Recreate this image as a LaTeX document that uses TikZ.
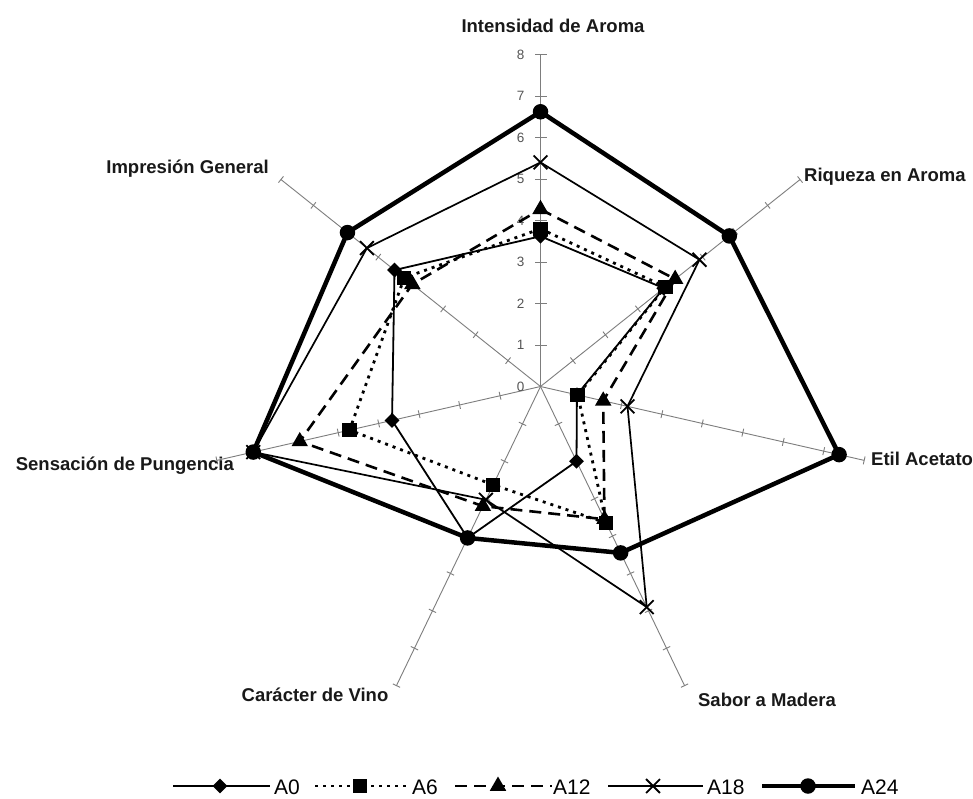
\documentclass[tikz,border=0pt]{standalone}
\usepackage{fontspec}
\setmainfont{Liberation Sans}
\usetikzlibrary{calc,shapes.geometric,shapes.misc}
\definecolor{axgray}{RGB}{125,125,125}
\definecolor{numgray}{RGB}{85,85,85}
\begin{document}
\begin{tikzpicture}[x=1pt,y=-1pt,
  axisline/.style={draw=axgray,line width=0.9pt},
  numlab/.style={text=numgray,font=\fontsize{13.5}{14}\selectfont,inner sep=0pt},
  axlab/.style={font=\fontsize{18.5}{20}\selectfont\bfseries,inner sep=0pt,text=black!90},
  leglab/.style={font=\fontsize{21}{22}\selectfont,inner sep=0pt,anchor=west},
  sA0/.style={line width=1.8pt},
  sA6/.style={line width=2.8pt,dash pattern=on 3pt off 5pt},
  sA12/.style={line width=2.6pt,dash pattern=on 12pt off 7pt},
  sA18/.style={line width=1.7pt},
  sA24/.style={line width=4.5pt,line join=round},
  mkdia/.style={diamond,fill=black,inner sep=0pt,minimum width=15pt,minimum height=15pt},
  mksq/.style={rectangle,fill=black,inner sep=0pt,minimum size=14.5pt},
  mktri/.style={regular polygon,regular polygon sides=3,fill=black,inner sep=0pt,minimum size=19pt},
  mkx/.style={cross out,draw=black,line width=1.8pt,inner sep=0pt,minimum size=12pt},
  mkcirc/.style={circle,fill=black,inner sep=0pt,minimum size=15.5pt},
]
\useasboundingbox (0,0) rectangle (973,798);
\fill[white] (0,0) rectangle (973,798);
\def\U{41.5}
\coordinate (O) at (540.5,386.5);
% axes and ticks
\foreach \k in {0,...,6}{
  \pgfmathsetmacro\t{-90+\k*360/7}
  \pgfmathsetmacro\tl{ifthenelse(\k==0,6,4)}
  \draw[axisline] (O) -- ($(O)+(\t:{8*\U})$) coordinate (ax\k);
  \foreach \i in {1,...,8}{
    \draw[axisline] ($(O)+(\t:{\i*\U})+({\t+90}:\tl)$) -- ($(O)+(\t:{\i*\U})+({\t-90}:\tl)$);
  }
}
% scale numbers
\foreach \i in {0,...,8}{
  \node[numlab] (num\i) at ($(O)+(-20,{-\i*\U})$) {\i};
}
% axis labels
\node[axlab] (lI) at (553,26) {Intensidad de Aroma};
\node[axlab,anchor=west] (lR) at (804,177) {Riqueza en Aroma};
\node[axlab,anchor=west] (lE) at (871,459) {Etil Acetato};
\node[axlab] (lS) at (767,700) {Sabor a Madera};
\node[axlab] (lC) at (315,695) {Carácter de Vino};
\node[axlab,anchor=east] (lP) at (234,466) {Sensación de Pungencia};
\node[axlab,anchor=east] (lG) at (269,169) {Impresión General};
% data points
\foreach \v [count=\k from 0] in {3.62,3.8,0.9,2.0,4.05,3.67,4.5}
  \coordinate (a0-\k) at ($(O)+({-90+\k*360/7}:{\v*\U})$);
\foreach \v [count=\k from 0] in {3.8,3.85,0.92,3.65,2.63,4.72,4.2}
  \coordinate (a6-\k) at ($(O)+({-90+\k*360/7}:{\v*\U})$);
\foreach \v [count=\k from 0] in {4.27,4.15,1.55,3.55,3.2,5.95,3.95}
  \coordinate (a12-\k) at ($(O)+({-90+\k*360/7}:{\v*\U})$);
\foreach \v [count=\k from 0] in {5.4,4.9,2.15,5.9,3.03,7.1,5.35}
  \coordinate (a18-\k) at ($(O)+({-90+\k*360/7}:{\v*\U})$);
\foreach \v [count=\k from 0] in {6.62,5.82,7.38,4.45,4.05,7.1,5.95}
  \coordinate (a24-\k) at ($(O)+({-90+\k*360/7}:{\v*\U})$);
% series lines
\draw[sA0] (a0-0) -- (a0-1) -- (a0-2) -- (a0-3) -- (a0-4) -- (a0-5) -- (a0-6) -- cycle;
\draw[sA6] (a6-0) -- (a6-1) -- (a6-2) -- (a6-3) -- (a6-4) -- (a6-5) -- (a6-6) -- cycle;
\draw[sA12] (a12-0) -- (a12-1) -- (a12-2) -- (a12-3) -- (a12-4) -- (a12-5) -- (a12-6) -- cycle;
\draw[sA18] (a18-0) -- (a18-1) -- (a18-2) -- (a18-3) -- (a18-4) -- (a18-5) -- (a18-6) -- cycle;
\draw[sA24] (a24-0) -- (a24-1) -- (a24-2) -- (a24-3) -- (a24-4) -- (a24-5) -- (a24-6) -- cycle;
% markers
\foreach \k in {0,...,6}{
  \node[mkdia] (m0-\k) at (a0-\k) {};
}
\foreach \k in {0,...,6}{
  \node[mksq] (m6-\k) at (a6-\k) {};
}
\foreach \k in {0,...,6}{
  \node[mktri] (m12-\k) at (a12-\k) {};
}
\foreach \k in {0,...,6}{
  \node[mkx] (m18-\k) at (a18-\k) {};
}
\foreach \k in {0,...,6}{
  \node[mkcirc] (m24-\k) at (a24-\k) {};
}
% legend
\coordinate (g0a) at (173,786); \coordinate (g0b) at (270,786);
\draw[sA0] (g0a) -- (g0b);
\node[mkdia] (g0m) at (220,786) {};
\node[leglab] (g0t) at (274,787) {A0};
\coordinate (g6a) at (315,786); \coordinate (g6b) at (408,786);
\draw[sA6] (g6a) -- (g6b);
\node[mksq] (g6m) at (360,786) {};
\node[leglab] (g6t) at (412,787) {A6};
\coordinate (g12a) at (455,786); \coordinate (g12b) at (552,786);
\draw[sA12] (g12a) -- (g12b);
\node[mktri] (g12m) at (498,786) {};
\node[leglab] (g12t) at (553,787) {A12};
\coordinate (g18a) at (608,786); \coordinate (g18b) at (703,786);
\draw[sA18] (g18a) -- (g18b);
\node[mkx] (g18m) at (653,786) {};
\node[leglab] (g18t) at (707,787) {A18};
\coordinate (g24a) at (762,786); \coordinate (g24b) at (855,786);
\draw[sA24] (g24a) -- (g24b);
\node[mkcirc] (g24m) at (808,786) {};
\node[leglab] (g24t) at (861,787) {A24};
\end{tikzpicture}
\end{document}
